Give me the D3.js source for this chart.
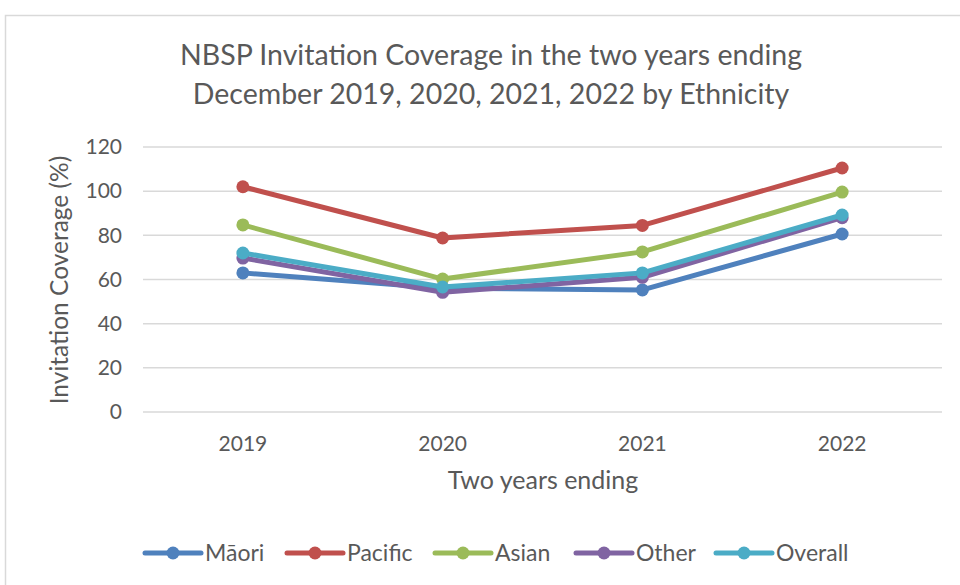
<!DOCTYPE html>
<html><head><meta charset="utf-8">
<script src="https://cdn.jsdelivr.net/npm/d3@7"></script>
<style>body{margin:0;background:#fff}svg{display:block}text{font-family:Lato,"Open Sans",sans-serif;fill:#595959}</style>
</head><body><svg id="c" width="960" height="585"></svg>
<script>
const years = ["2019","2020","2021","2022"];
const seriesNames = ["Māori","Pacific","Asian","Other","Overall"];
const maori   = [63, 56, 55.3, 80.6];
const pacific = [102, 78.8, 84.5, 110.5];
const asian   = [84.7, 60.2, 72.5, 99.6];
const other   = [69.7, 54.2, 61, 88];
const overall = [72, 56.6, 63, 89.2];
const colors  = ["#4F81BD","#C0504D","#9BBB59","#8064A2","#4BACC6"];
const yTicks  = [0,20,40,60,80,100,120];
const titleLines = ["NBSP Invitation Coverage in the two years ending","December 2019, 2020, 2021, 2022 by Ethnicity"];

const data = [maori,pacific,asian,other,overall].map((v,i)=>({name:seriesNames[i],values:v,color:colors[i]}));
const svg = d3.select("#c");
svg.append("rect").attr("x",5.5).attr("y",15.5).attr("width",1000).attr("height",600).attr("fill","#fff").attr("stroke","#d9d9d9").attr("stroke-width",1.5);

const L=143,R=942,T=147,B=412;
const x = d3.scaleBand().domain(years).range([L,R]);
const y = d3.scaleLinear().domain([0,120]).range([B,T]);

svg.append("g").selectAll("line").data(yTicks).join("line")
  .attr("x1",L).attr("x2",R).attr("y1",d=>y(d)).attr("y2",d=>y(d))
  .attr("stroke","#d9d9d9").attr("stroke-width",1.5);

const yAxis = svg.append("g").attr("transform",`translate(${L},0)`).call(d3.axisLeft(y).tickValues(yTicks).tickSize(0).tickPadding(21));
yAxis.select(".domain").remove();
yAxis.selectAll("text").style("font-size","21px").attr("fill","#595959");

const xAxis = svg.append("g").attr("transform",`translate(0,${B})`).call(d3.axisBottom(x).tickSize(0).tickPadding(24));
xAxis.select(".domain").remove();
xAxis.selectAll("text").style("font-size","21px").attr("fill","#595959");

svg.append("g").selectAll("text").data(titleLines).join("text")
  .attr("x",491).attr("y",(d,i)=>65+i*39).attr("text-anchor","middle").style("font-size","28.5px").text(d=>d);

svg.append("text").attr("x",543).attr("y",489).attr("text-anchor","middle").style("font-size","25px").text("Two years ending");
svg.append("text").attr("transform",`translate(68,280) rotate(-90)`).attr("text-anchor","middle").style("font-size","24.5px").text("Invitation Coverage (%)");

const line = d3.line().x((d,i)=>x(years[i])+x.bandwidth()/2).y(d=>y(d));
const g = svg.append("g");
data.forEach(s=>{
  g.append("path").attr("d",line(s.values)).attr("fill","none").attr("stroke",s.color).attr("stroke-width",5).attr("stroke-linejoin","round").attr("stroke-linecap","round");
  g.selectAll(null).data(s.values).join("circle").attr("cx",(d,i)=>x(years[i])+x.bandwidth()/2).attr("cy",d=>y(d)).attr("r",6.5).attr("fill",s.color);
});

const legX = [145,287,435,576,716];
const lg = svg.append("g");
data.forEach((s,i)=>{
  const gg = lg.append("g").attr("transform",`translate(${legX[i]},553)`);
  gg.append("line").attr("x1",0).attr("x2",56).attr("stroke",s.color).attr("stroke-width",5).attr("stroke-linecap","round");
  gg.append("circle").attr("cx",28).attr("r",6.5).attr("fill",s.color);
  gg.append("text").attr("x",60).attr("y",8).style("font-size","23px").text(s.name);
});
</script></body></html>
